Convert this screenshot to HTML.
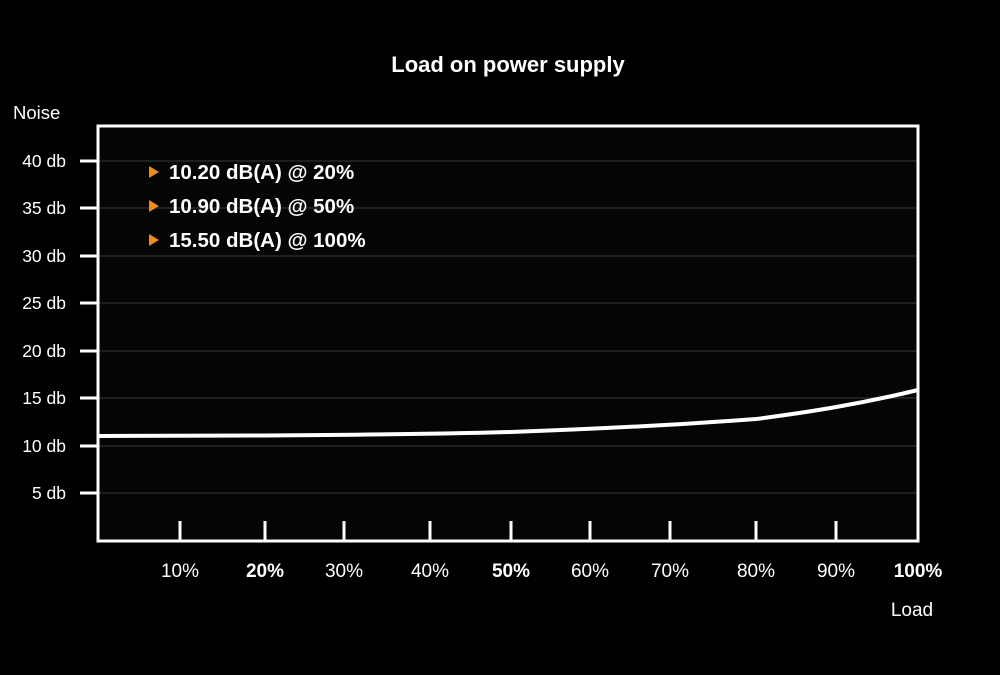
<!DOCTYPE html>
<html><head><style>
body{margin:0;background:#000;}
svg{display:block;font-family:"Liberation Sans",Arial,sans-serif;}
</style></head><body>
<svg width="1000" height="675" viewBox="0 0 1000 675">
<rect width="1000" height="675" fill="#000"/>
<rect x="98" y="126" width="820" height="415" fill="#050505"/>
<text x="508" y="72" fill="#fff" font-size="22" font-weight="bold" text-anchor="middle">Load on power supply</text>
<text x="13" y="119" fill="#fff" font-size="18.5">Noise</text>
<g stroke="#1f1f1f" stroke-width="2">
<line x1="98" y1="161" x2="918" y2="161"/><line x1="98" y1="208" x2="918" y2="208"/>
<line x1="98" y1="256" x2="918" y2="256"/><line x1="98" y1="303" x2="918" y2="303"/>
<line x1="98" y1="351" x2="918" y2="351"/><line x1="98" y1="398" x2="918" y2="398"/>
<line x1="98" y1="446" x2="918" y2="446"/><line x1="98" y1="493" x2="918" y2="493"/>
</g>
<g stroke="#fff" stroke-width="3">
<line x1="80" y1="161" x2="98" y2="161"/><line x1="80" y1="208" x2="98" y2="208"/>
<line x1="80" y1="256" x2="98" y2="256"/><line x1="80" y1="303" x2="98" y2="303"/>
<line x1="80" y1="351" x2="98" y2="351"/><line x1="80" y1="398" x2="98" y2="398"/>
<line x1="80" y1="446" x2="98" y2="446"/><line x1="80" y1="493" x2="98" y2="493"/>
<line x1="180" y1="521" x2="180" y2="541"/><line x1="265" y1="521" x2="265" y2="541"/>
<line x1="344" y1="521" x2="344" y2="541"/><line x1="430" y1="521" x2="430" y2="541"/>
<line x1="511" y1="521" x2="511" y2="541"/><line x1="590" y1="521" x2="590" y2="541"/>
<line x1="670" y1="521" x2="670" y2="541"/><line x1="756" y1="521" x2="756" y2="541"/>
<line x1="836" y1="521" x2="836" y2="541"/>
</g>
<rect x="98" y="126" width="820" height="415" fill="none" stroke="#fff" stroke-width="3"/>
<g fill="#fff" font-size="17.5" text-anchor="end">
<text x="66" y="167">40 db</text><text x="66" y="214">35 db</text><text x="66" y="262">30 db</text>
<text x="66" y="309">25 db</text><text x="66" y="357">20 db</text><text x="66" y="404">15 db</text>
<text x="66" y="452">10 db</text><text x="66" y="499">5 db</text>
</g>
<g fill="#fff" font-size="19" text-anchor="middle">
<text x="180" y="577">10%</text><text x="265" y="577" font-weight="bold">20%</text>
<text x="344" y="577">30%</text><text x="430" y="577">40%</text>
<text x="511" y="577" font-weight="bold">50%</text><text x="590" y="577">60%</text>
<text x="670" y="577">70%</text><text x="756" y="577">80%</text><text x="836" y="577">90%</text>
<text x="918" y="577" font-weight="bold">100%</text>
<text x="912" y="616">Load</text>
</g>
<path d="M98,436 L265,435.5 Q420,434.5 511,432 Q650,427 756,419 C810,412 860,404 918,390" fill="none" stroke="#fff" stroke-width="4"/>
<g fill="#f08a18">
<polygon points="149,166 149,178 159,172"/><polygon points="149,200 149,212 159,206"/><polygon points="149,234 149,246 159,240"/>
</g>
<g fill="#fff" font-size="20.5" font-weight="bold">
<text x="169" y="179">10.20 dB(A) @ 20%</text>
<text x="169" y="213">10.90 dB(A) @ 50%</text>
<text x="169" y="247">15.50 dB(A) @ 100%</text>
</g>
</svg>
</body></html>
